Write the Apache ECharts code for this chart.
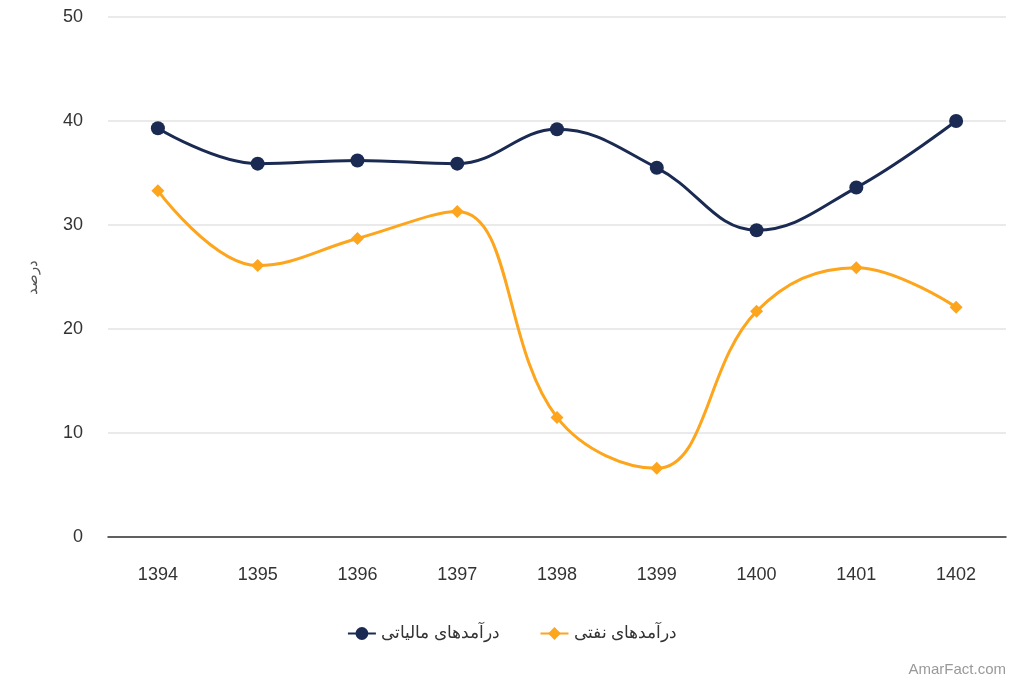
<!DOCTYPE html>
<html><head><meta charset="utf-8">
<script src="https://cdn.jsdelivr.net/npm/echarts@6/dist/echarts.min.js"></script>
<style>html,body{margin:0;padding:0;background:#fff}#c{width:1024px;height:683px}</style>
</head><body><div id="c"></div>
<script>
const categories = ['1394','1395','1396','1397','1398','1399','1400','1401','1402'];
const taxRevenue = [39.3, 35.9, 36.2, 35.9, 39.2, 35.5, 29.5, 33.6, 40.0];
const oilRevenue = [33.3, 26.1, 28.7, 31.3, 11.5, 6.6, 21.7, 25.9, 22.1];
const yTicks = {min: 0, max: 50, interval: 10};
const seriesNames = ['درآمدهای مالیاتی', 'درآمدهای نفتی'];
const yAxisTitle = 'درصد';
const watermark = 'AmarFact.com';

const chart = echarts.init(document.getElementById('c'));
const font = '"Liberation Sans", Arial, sans-serif';
chart.setOption({
  animation: false,
  textStyle: {fontFamily: font},
  grid: {left: 108, right: 18, top: 17, bottom: 146},
  legend: {
    bottom: 36, left: 'center', itemGap: 40, itemWidth: 28, itemHeight: 16,
    textStyle: {fontSize: 16.5, color: '#333', fontFamily: font},
    data: seriesNames
  },
  graphic: [{type: 'text', right: 18, bottom: 6, style: {text: watermark, fill: '#999', font: '15px ' + font}}],
  xAxis: {
    type: 'category', data: categories, boundaryGap: true,
    axisLine: {lineStyle: {color: '#333', width: 1.5}},
    axisTick: {show: false},
    axisLabel: {fontSize: 18, color: '#333', margin: 29}
  },
  yAxis: {
    type: 'value', min: yTicks.min, max: yTicks.max, interval: yTicks.interval,
    name: yAxisTitle, nameLocation: 'middle', nameGap: 68, nameRotate: 90,
    nameTextStyle: {fontSize: 15, color: '#555'},
    axisLine: {show: false}, axisTick: {show: false},
    axisLabel: {fontSize: 18, color: '#333', margin: 25},
    splitLine: {lineStyle: {color: '#e3e3e3', width: 1.5}}
  },
  series: [
    {name: seriesNames[0], type: 'line', data: taxRevenue, smooth: 0.4,
     symbol: 'circle', symbolSize: 14, color: '#1a2a52', lineStyle: {width: 3}},
    {name: seriesNames[1], type: 'line', data: oilRevenue, smooth: 0.4,
     symbol: 'diamond', symbolSize: 13, color: '#fda51c', lineStyle: {width: 3}}
  ]
});
</script></body></html>
